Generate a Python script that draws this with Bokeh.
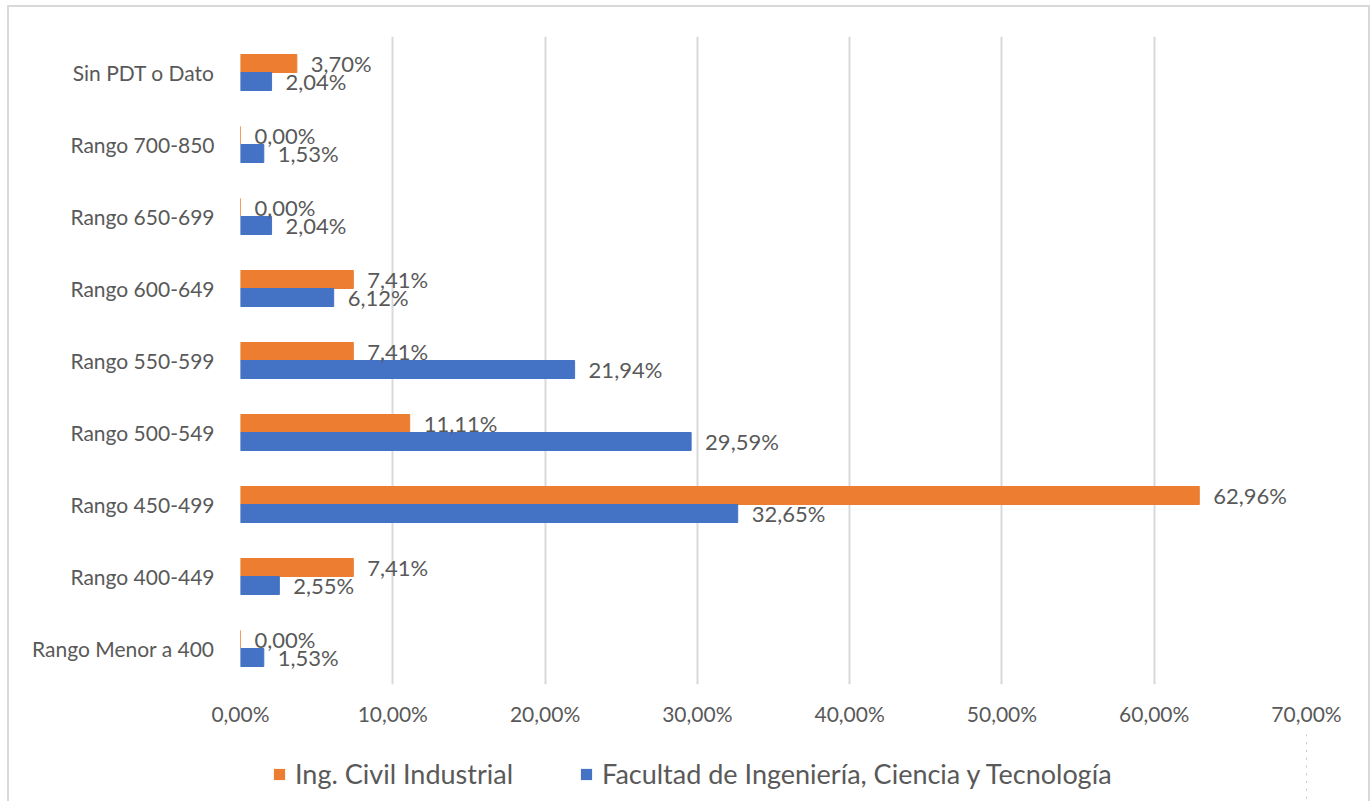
from bokeh.plotting import figure
from bokeh.models import ColumnDataSource, FixedTicker, Legend, LegendItem, FactorRange, Range1d
from bokeh.layouts import column
from bokeh.transform import dodge
from bokeh.core.properties import value
from bokeh.embed import file_html
from bokeh.resources import INLINE

categories = ["Rango Menor a 400", "Rango 400-449", "Rango 450-499", "Rango 500-549",
              "Rango 550-599", "Rango 600-649", "Rango 650-699", "Rango 700-850",
              "Sin PDT o Dato"]
ing_civil = [0.00, 7.41, 62.96, 11.11, 7.41, 7.41, 0.00, 0.00, 3.70]
facultad = [1.53, 2.55, 32.65, 29.59, 21.94, 6.12, 2.04, 1.53, 2.04]
series_names = ["Ing. Civil Industrial", "Facultad de Ingeniería, Ciencia y Tecnología"]
x_ticks = [0, 10, 20, 30, 40, 50, 60, 70]
x_tick_labels = ["0,00%", "10,00%", "20,00%", "30,00%", "40,00%", "50,00%", "60,00%", "70,00%"]

ORANGE = "#ED7D31"
BLUE = "#4472C4"
TEXT = "#595959"
GRID = "#D9D9D9"
FONT = "Lato"

def fmt(v):
    return ("%.2f" % v).replace(".", ",") + "%"

src = ColumnDataSource(dict(
    cat=categories,
    ing=ing_civil,
    fac=facultad,
    ing_lbl=[fmt(v) for v in ing_civil],
    fac_lbl=[fmt(v) for v in facultad],
))

p = figure(frame_width=1066, frame_height=648, output_backend="svg", toolbar_location=None,
           y_range=FactorRange(*categories, range_padding=0), x_range=(0, 70),
           min_border_left=231, min_border_right=62, min_border_top=29, min_border_bottom=47)
p.outline_line_color = None

r1 = p.hbar(y=dodge("cat", 0.125, range=p.y_range), right="ing", left=0, height=0.25,
            source=src, fill_color=ORANGE, line_color=ORANGE)
r2 = p.hbar(y=dodge("cat", -0.125, range=p.y_range), right="fac", left=0, height=0.25,
            source=src, fill_color=BLUE, line_color=BLUE)

p.text(x="ing", y=dodge("cat", 0.125, range=p.y_range), text="ing_lbl", source=src,
       x_offset=14, text_baseline="middle", text_align="left",
       text_font=value(FONT), text_font_size="22px", text_color=TEXT)
p.text(x="fac", y=dodge("cat", -0.125, range=p.y_range), text="fac_lbl", source=src,
       x_offset=14, text_baseline="middle", text_align="left",
       text_font=value(FONT), text_font_size="22px", text_color=TEXT)

p.xaxis.ticker = FixedTicker(ticks=x_ticks)
p.xaxis.major_label_overrides = {t: l for t, l in zip(x_ticks, x_tick_labels)}
p.xaxis.axis_line_color = None
p.xaxis.major_tick_line_color = None
p.xaxis.minor_tick_line_color = None
p.xaxis.major_label_standoff = 10
p.xaxis.major_label_text_font = FONT
p.xaxis.major_label_text_font_size = "21px"
p.xaxis.major_label_text_color = TEXT

p.yaxis.axis_line_color = None
p.yaxis.major_tick_line_color = None
p.yaxis.minor_tick_line_color = None
p.yaxis.major_label_standoff = 20
p.yaxis.major_label_text_font = FONT
p.yaxis.major_label_text_font_size = "21px"
p.yaxis.major_label_text_color = TEXT

p.ygrid.grid_line_color = None
p.xgrid.grid_line_color = GRID
p.xgrid.grid_line_width = 2

# legend strip below the chart: same series, view range kept off the bars
lf = figure(width=1359, height=70, output_backend="svg", toolbar_location=None,
            x_axis_type=None, y_axis_type=None, min_border=0,
            y_range=FactorRange(*categories), x_range=Range1d(-2, -1))
lf.outline_line_color = None
lf.grid.grid_line_color = None
l1 = lf.hbar(y="cat", right="ing", left=0, height=0.25, source=src,
             fill_color=ORANGE, line_color=None)
l2 = lf.hbar(y="cat", right="fac", left=0, height=0.25, source=src,
             fill_color=BLUE, line_color=None)

legend = Legend(items=[LegendItem(label=series_names[0], renderers=[l1]),
                       LegendItem(label=series_names[1], renderers=[l2])],
                orientation="horizontal", location=(32, 11),
                label_text_font=FONT, label_text_font_size="27px", label_text_color=TEXT,
                glyph_width=14, glyph_height=14, label_standoff=9, spacing=66,
                label_height=33,
                border_line_color=None, background_fill_alpha=0, margin=0, padding=0)
lf.add_layout(legend, "center")

layout = column(p, lf, spacing=0)
layout.styles = {"border-left": "2px solid #D9D9D9", "border-right": "2px solid #D9D9D9",
                 "border-top": "2px solid #D9D9D9",
                 "margin-left": "7px", "margin-top": "5px"}

open("out.html", "w").write(file_html(layout, INLINE))
